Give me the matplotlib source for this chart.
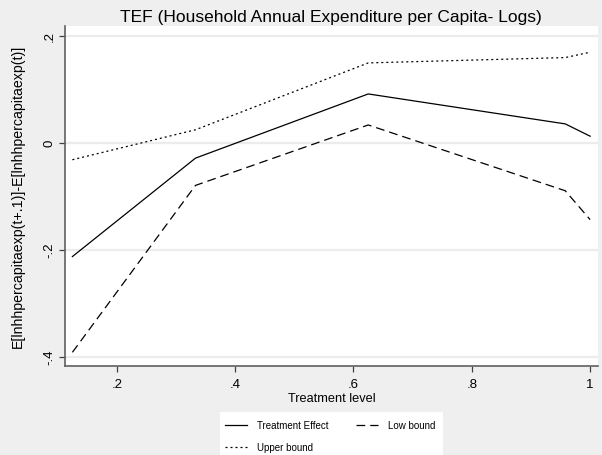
import matplotlib
matplotlib.use("Agg")
import matplotlib.pyplot as plt
from matplotlib.patches import Rectangle

plt.rcParams['font.family'] = ['Liberation Sans', 'DejaVu Sans']

# Treatment levels and estimated effects
treatment_level = [0.125, 0.333, 0.625, 0.958, 1.0]
treatment_effect = [-0.213, -0.029, 0.091, 0.035, 0.012]
low_bound = [-0.392, -0.080, 0.033, -0.090, -0.144]
upper_bound = [-0.032, 0.024, 0.149, 0.159, 0.169]

x_ticks = [0.2, 0.4, 0.6, 0.8, 1.0]
x_tick_labels = [".2", ".4", ".6", ".8", "1"]
y_ticks = [-0.4, -0.2, 0.0, 0.2]
y_tick_labels = ["-.4", "-.2", "0", ".2"]

W, H = 602, 456
fig = plt.figure(figsize=(W / 100, H / 100), dpi=100)
fig.patch.set_facecolor('#efefef')

left, right, top, bottom = 64.7, 598, 27, 366.7
ax = fig.add_axes([left / W, 1 - bottom / H, (right - left) / W, (bottom - top) / H])
ax.set_facecolor('white')

ax.plot(treatment_level, treatment_effect, color='black', lw=0.9,
        label='Treatment Effect')
ax.plot(treatment_level, upper_bound, color='black', lw=0.9,
        linestyle=(0, (1.6, 2.4)), label='Upper bound')
ax.plot(treatment_level, low_bound, color='black', lw=0.9,
        linestyle=(0, (7, 4)), label='Low bound')

ax.set_xlim(0.112, 1.0133)
ax.set_ylim(-0.417, 0.218)

ax.set_xticks(x_ticks)
ax.set_xticklabels(x_tick_labels)
ax.set_yticks(y_ticks)
ax.set_yticklabels(y_tick_labels, rotation=90, va='center')

ax.grid(axis='y', color='#ececec', lw=1.6)
ax.set_axisbelow(True)

for s in ['top', 'right']:
    ax.spines[s].set_visible(False)
for s in ['left', 'bottom']:
    ax.spines[s].set_color('#606060')
    ax.spines[s].set_linewidth(1.2)

ax.tick_params(axis='both', direction='out', length=4.5, width=0.9,
               color='#404040', labelsize=9.5, labelcolor='black')
ax.tick_params(axis='x', pad=4.5)
ax.tick_params(axis='y', pad=2)

ax.set_xlabel('Treatment level', fontsize=9.2, labelpad=1.5)
ax.set_ylabel('E[lnhhpercapitaexp(t+.1)]-E[lnhhpercapitaexp(t)]', fontsize=10.2)
ax.yaxis.label.set_va('center')
ax.yaxis.set_label_coords((18 - left) / (right - left), 0.5)

fig.text((left + right) / 2 / W, 1 - 17.5 / H,
         'TEF (Household Annual Expenditure per Capita- Logs)',
         ha='center', va='center', fontsize=12.5)

# Legend panel below the axes
fig.patches.append(Rectangle((220 / W, 0), (442.7 - 220) / W, (H - 413) / H,
                             transform=fig.transFigure, facecolor='white',
                             edgecolor='none', zorder=0))
leg = fig.legend(loc='upper left', bbox_to_anchor=(225 / W, 1 - 421 / H),
                 ncol=2, fontsize=7, frameon=False, borderpad=0,
                 borderaxespad=0, handlelength=2.26, handletextpad=1.03,
                 columnspacing=2.8, labelspacing=1.25)

fig.savefig('out.png', dpi=100, facecolor=fig.get_facecolor())
